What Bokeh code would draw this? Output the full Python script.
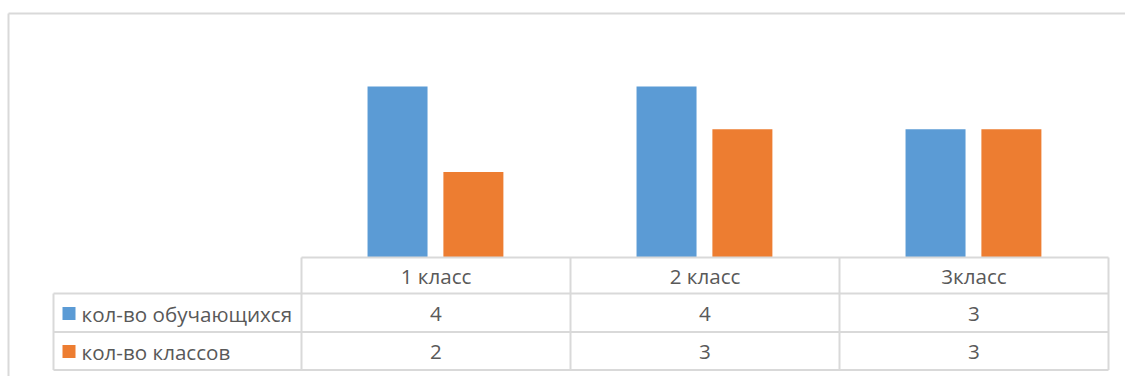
from bokeh.plotting import figure
from bokeh.models import Range1d, ColumnDataSource
from bokeh.core.properties import value
from bokeh.embed import file_html
from bokeh.resources import INLINE

# --- data ---
categories = ["1 класс", "2 класс", "3класс"]
series_names = ["кол-во обучающихся", "кол-во классов"]
students = [4, 4, 3]
classes = [2, 3, 3]
series_values = [students, classes]
colors = ["#5B9BD5", "#ED7D31"]

# --- layout (pixels) ---
W, H = 1125, 376
COL_W = 269.0      # width of one category column
X0 = 301.0         # left edge of first category column
Y0 = 257.0         # value baseline = top of the data table
UNIT = 42.75       # pixels per value unit
TABLE_LEFT = 53.0
ROW_LINES = [293.0, 331.5, 369.5]
ROW_CENTERS = [313.0, 351.0]
HEADER_CENTER = 275.5
BAR_W = 60.0
BAR_OFFSETS = [-0.143, 0.139]
GRID = "#d9d9d9"
TEXT = "#595959"
FONT = value("Open Sans")
FONT_SIZE = "20.6px"


def dx(px):
    return (px - X0) / COL_W


def dy(py):
    return (Y0 - py) / UNIT


p = figure(width=W, height=H,
           x_range=Range1d(dx(0), dx(W)), y_range=Range1d(dy(H), dy(0)),
           x_axis_type=None, y_axis_type=None,
           output_backend="svg", toolbar_location=None, min_border=0)
p.grid.visible = False
p.outline_line_color = None
p.background_fill_color = "white"
p.border_fill_color = "white"

# chart area border (top and left edges visible)
p.segment(x0=[dx(8), dx(8)], y0=[dy(13), dy(13)], x1=[dx(8), dx(W + 10)], y1=[dy(H + 10), dy(13)],
          line_color=GRID, line_width=2)

# columns
n = len(categories)
for s, (vals, col) in enumerate(zip(series_values, colors)):
    src = ColumnDataSource(dict(x=[i + 0.5 + BAR_OFFSETS[s] for i in range(n)], top=vals))
    p.vbar(x="x", top="top", bottom=0, width=BAR_W / COL_W, source=src,
           fill_color=col, line_color=None)

# data table grid
xs0, ys0, xs1, ys1 = [], [], [], []
# header top line
xs0.append(0); ys0.append(0); xs1.append(n); ys1.append(0)
for ry in ROW_LINES:
    xs0.append(dx(TABLE_LEFT)); ys0.append(dy(ry)); xs1.append(n); ys1.append(dy(ry))
for i in range(n + 1):
    xs0.append(i); ys0.append(0); xs1.append(i); ys1.append(dy(ROW_LINES[-1]))
xs0.append(dx(TABLE_LEFT)); ys0.append(dy(ROW_LINES[0])); xs1.append(dx(TABLE_LEFT)); ys1.append(dy(ROW_LINES[-1]))
p.segment(x0=xs0, y0=ys0, x1=xs1, y1=ys1, line_color=GRID, line_width=2)

# header labels
p.text(x=[i + 0.5 for i in range(n)], y=[dy(HEADER_CENTER)] * n, text=categories,
       text_align="center", text_baseline="middle", text_color=TEXT,
       text_font=FONT, text_font_size=FONT_SIZE)

# series rows: legend keys, names and values
for s, (name, vals, col) in enumerate(zip(series_names, series_values, colors)):
    yc = dy(ROW_CENTERS[s])
    p.scatter(x=[dx(68.5)], y=[yc], marker="square", size=13, fill_color=col, line_color=None)
    p.text(x=[dx(81)], y=[yc], text=[name], text_align="left", text_baseline="middle",
           text_color=TEXT, text_font=FONT, text_font_size=FONT_SIZE)
    p.text(x=[i + 0.5 for i in range(n)], y=[yc] * n, text=[str(v) for v in vals],
           text_align="center", text_baseline="middle", text_color=TEXT,
           text_font=FONT, text_font_size=FONT_SIZE)

open("out.html", "w").write(file_html(p, INLINE))
